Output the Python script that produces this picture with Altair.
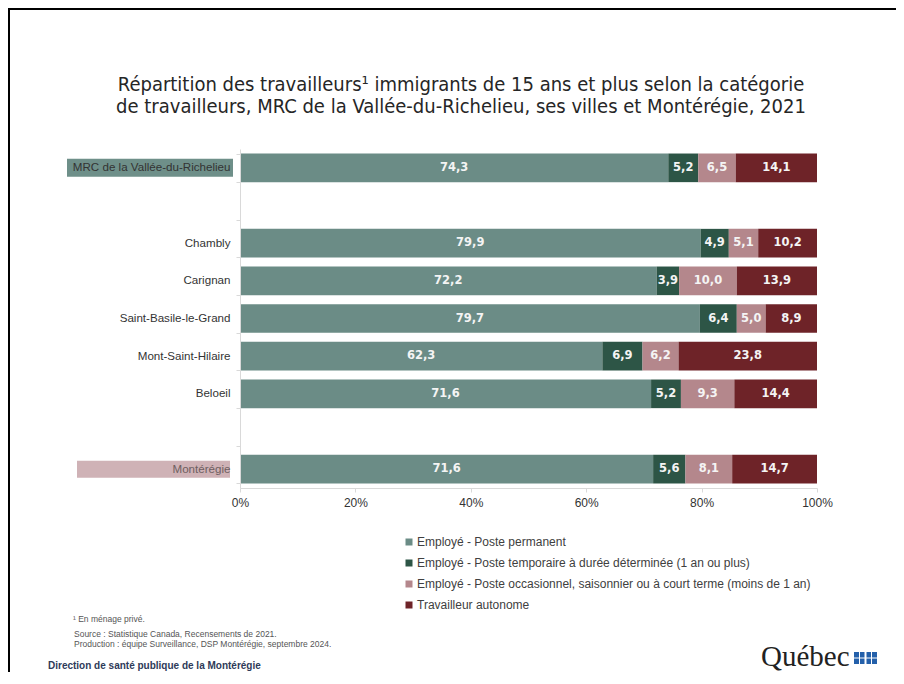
import altair as alt
import pandas as pd

# ---------------- data ----------------
categories = ["MRC de la Vallée-du-Richelieu", " ", "Chambly", "Carignan",
              "Saint-Basile-le-Grand", "Mont-Saint-Hilaire", "Beloeil", "  ", "Montérégie"]
places = ["MRC de la Vallée-du-Richelieu", "Chambly", "Carignan", "Saint-Basile-le-Grand",
          "Mont-Saint-Hilaire", "Beloeil", "Montérégie"]
series = ["Employé - Poste permanent",
          "Employé - Poste temporaire à durée déterminée (1 an ou plus)",
          "Employé - Poste occasionnel, saisonnier ou à court terme (moins de 1 an)",
          "Travailleur autonome"]
permanent = [74.3, 79.9, 72.2, 79.7, 62.3, 71.6, 71.6]
temporaire = [5.2, 4.9, 3.9, 6.4, 6.9, 5.2, 5.6]
occasionnel = [6.5, 5.1, 10.0, 5.0, 6.2, 9.3, 8.1]
autonome = [14.1, 10.2, 13.9, 8.9, 23.8, 14.4, 14.7]
colors = ["#6B8C86", "#2D5546", "#B4878C", "#6E2328"]
x_ticks = [0, 0.2, 0.4, 0.6, 0.8, 1.0]

title_lines = ["Répartition des travailleurs¹ immigrants de 15 ans et plus selon la catégorie",
               "de travailleurs, MRC de la Vallée-du-Richelieu, ses villes et Montérégie, 2021"]
notes = ["¹ En ménage privé.",
         "Source : Statistique Canada, Recensements de 2021.",
         "Production : équipe Surveillance, DSP Montérégie, septembre 2024."]
footer = "Direction de santé publique de la Montérégie"
logo = "Québec"

rows = []
for s_i, (name, vals) in enumerate(zip(series, [permanent, temporaire, occasionnel, autonome])):
    for p, v in zip(places, vals):
        rows.append({"place": p, "series": name, "order": s_i, "value": v,
                     "label": f"{v:.1f}".replace(".", ",")})
df = pd.DataFrame(rows)

yscale = alt.Scale(domain=categories, paddingInner=0.24, paddingOuter=0.12)

base = alt.Chart(df).transform_stack(
    stack="value", groupby=["place"], as_=["x0", "x1"], offset="normalize",
    sort=[alt.SortField("order", order="ascending")]
)

bars = base.mark_bar().encode(
    y=alt.Y("place:N", scale=yscale, title=None,
            axis=alt.Axis(domainColor="#D9D9D9", tickColor="#D9D9D9", tickBand="extent",
                          tickSize=4, labelPadding=6, labelFont="Liberation Sans",
                          labelFontSize=11.6, labelLimit=300, zindex=1,
                          labelColor={"condition": {"test": "datum.value === 'Montérégie'",
                                                    "value": "#6E5E60"},
                                      "value": "#333333"})),
    x=alt.X("x0:Q", scale=alt.Scale(domain=[0, 1], nice=False), title=None,
            axis=alt.Axis(values=x_ticks, format=".0%", domainColor="#D9D9D9",
                          tickColor="#D9D9D9", tickSize=4, labelPadding=5,
                          labelFont="Liberation Sans", labelFontSize=12,
                          labelColor="#333333", grid=False, labelFlush=False)),
    x2="x1:Q",
    color=alt.Color("series:N", scale=alt.Scale(domain=series, range=colors),
                    legend=alt.Legend(orient="none", legendX=163, legendY=387, title=None,
                                      symbolType="square", symbolSize=49,
                                      symbolStrokeWidth=0, labelFont="Liberation Sans",
                                      labelFontSize=12, labelColor="#404040",
                                      rowPadding=9, padding=0, labelLimit=600,
                                      labelOffset=2)),
)

labels = base.transform_calculate(mid="(datum.x0 + datum.x1) / 2").mark_text(
    font="DejaVu Sans", fontSize=11.5, fontWeight="bold", color="#F4F4F4"
).encode(
    y=alt.Y("place:N", scale=yscale),
    x=alt.X("mid:Q"),
    text="label:N",
)

box_df = pd.DataFrame({"place": [places[0], places[-1]]})
box_mrc = alt.Chart(box_df).transform_filter(alt.datum.place == places[0]).mark_bar(
    size=18, orient="horizontal", color="#6E8F89"
).encode(y=alt.Y("place:N", scale=yscale), x=alt.value(-173), x2=alt.value(-7))
box_mon = alt.Chart(box_df).transform_filter(alt.datum.place == places[-1]).mark_bar(
    size=17, orient="horizontal", color="#CFB2B6"
).encode(y=alt.Y("place:N", scale=yscale), x=alt.value(-163), x2=alt.value(-10))

one = pd.DataFrame({"a": [0]})


def txt(text, x, y, **kw):
    return alt.Chart(one).mark_text(text=text, **kw).encode(x=alt.value(x), y=alt.value(y))


title1 = txt(title_lines[0], 221, -64, font="Liberation Sans Narrow, DejaVu Sans Condensed, Liberation Sans",
             fontSize=20, color="#262626", align="center", baseline="middle")
title2 = txt(title_lines[1], 221, -42, font="Liberation Sans Narrow, DejaVu Sans Condensed, Liberation Sans",
             fontSize=20, color="#262626", align="center", baseline="middle")
note1 = txt(notes[0], -167, 470, font="Liberation Sans", fontSize=8.5, color="#555555",
            align="left", baseline="middle")
note2 = txt(notes[1], -166, 485, font="Liberation Sans", fontSize=8.5, color="#555555",
            align="left", baseline="middle")
note3 = txt(notes[2], -166, 495, font="Liberation Sans", fontSize=8.5, color="#555555",
            align="left", baseline="middle")
foot = txt(footer, -192, 517, font="Liberation Sans", fontSize=10, fontWeight="bold",
           color="#2E3A59", align="left", baseline="middle")
logo_t = txt(logo, 521, 517, font="Liberation Serif", fontSize=29, color="#222222",
             align="left", baseline="alphabetic")

flag = alt.Chart(one).mark_rect(color="#2460AA").encode(
    x=alt.value(614), x2=alt.value(637), y=alt.value(503), y2=alt.value(515))
flag_h = alt.Chart(one).mark_rule(color="white", strokeWidth=1).encode(
    x=alt.value(614), x2=alt.value(637), y=alt.value(509))
flag_v1 = alt.Chart(one).mark_rule(color="white", strokeWidth=1).encode(
    x=alt.value(619.5), y=alt.value(503), y2=alt.value(515))
flag_v2 = alt.Chart(one).mark_rule(color="white", strokeWidth=2).encode(
    x=alt.value(625.5), y=alt.value(503), y2=alt.value(515))
flag_v3 = alt.Chart(one).mark_rule(color="white", strokeWidth=1).encode(
    x=alt.value(631.5), y=alt.value(503), y2=alt.value(515))

frame_top = alt.Chart(one).mark_rule(color="black", strokeWidth=2).encode(
    x=alt.value(-232), x2=alt.value(660), y=alt.value(-140))
frame_left = alt.Chart(one).mark_rule(color="black", strokeWidth=2).encode(
    x=alt.value(-231), y=alt.value(-141), y2=alt.value(530))

chart = alt.layer(
    box_mrc, box_mon, bars, labels, title1, title2, note1, note2, note3, foot, logo_t,
    flag, flag_h, flag_v1, flag_v2, flag_v3, frame_top, frame_left
).properties(
    width=577, height=339,
    padding={"left": 232, "top": 141, "right": 79, "bottom": 184},
    autosize=alt.AutoSizeParams(type="none"),
    background="white",
).configure_view(stroke=None)

chart.save("out.html", embed_options={"renderer": "svg", "actions": False})
